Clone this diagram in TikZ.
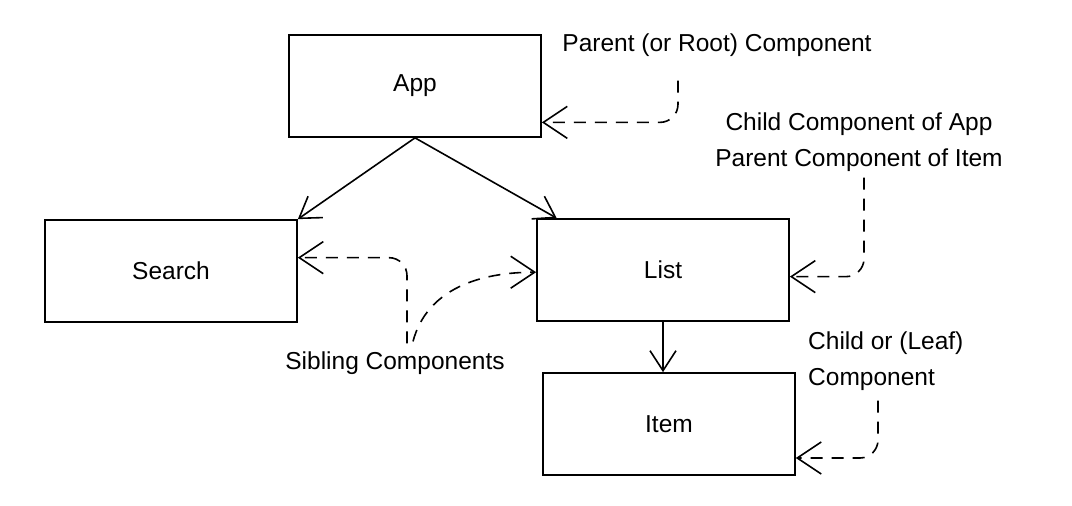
\documentclass[tikz,border=0pt]{standalone}
\usepackage{fontspec}
\setmainfont{Liberation Sans}
\usetikzlibrary{arrows.meta,positioning}
\tikzset{
  comp node/.style={
    draw, rectangle, line width=1.7pt, minimum width=252pt, minimum height=102pt, inner sep=0pt
  },
  note node/.style={
    align=center, inner sep=2pt
  },
  tree arrow/.style={-{Straight Barb[length=20pt,width=26pt]}, line width=1.6pt},
  note arrow/.style={-{Straight Barb[length=24pt,width=32pt]}, line width=1.6pt, dash pattern=on 12pt off 9pt, rounded corners=18pt}
}

\begin{document}
\begin{tikzpicture}[x=1pt, y=-1pt, font=\fontsize{24.5}{36}\selectfont]
    \useasboundingbox (0,0) rectangle (1072,506);
    \draw (415,86) node[comp node] (app) {App};
    \draw (171,271) node[comp node] (search) {Search};
    \draw (663,270) node[comp node] (list) {List};
    \draw (669,424) node[comp node] (item) {Item};
    \draw (717,45) node[note node] (parentnote) {Parent (or Root) Component};
    \draw (859,142) node[note node] (childnote) {Child Component of App\\Parent Component of Item};
    \draw (395,363) node[note node] (siblingnote) {Sibling Components};
    \draw (806,361) node[note node, anchor=west, align=left] (leafnote) {Child or (Leaf)\\Component};
    \draw (app.south) edge[tree arrow] (search.north east);
    \draw (app.south) edge[tree arrow] (list.154);
    \draw (list.south) edge[tree arrow] (list.south |- item.north);
    \draw[note arrow] ([xshift=-39pt,yshift=-22pt]parentnote.south) |- (app.-16);
    \draw[note arrow] ([xshift=5pt,yshift=-4pt]childnote.south) |- (list.-3);
    \draw[note arrow] ([xshift=12pt,yshift=6pt]siblingnote.north) |- (search.6);
    \draw[note arrow] ([xshift=18pt,yshift=8pt]siblingnote.north) to[out=75,in=180] (list.181);
    \draw[note arrow] ([xshift=72pt,yshift=-8pt]leafnote.south west) |- (item.-15);
\end{tikzpicture}
\end{document}
